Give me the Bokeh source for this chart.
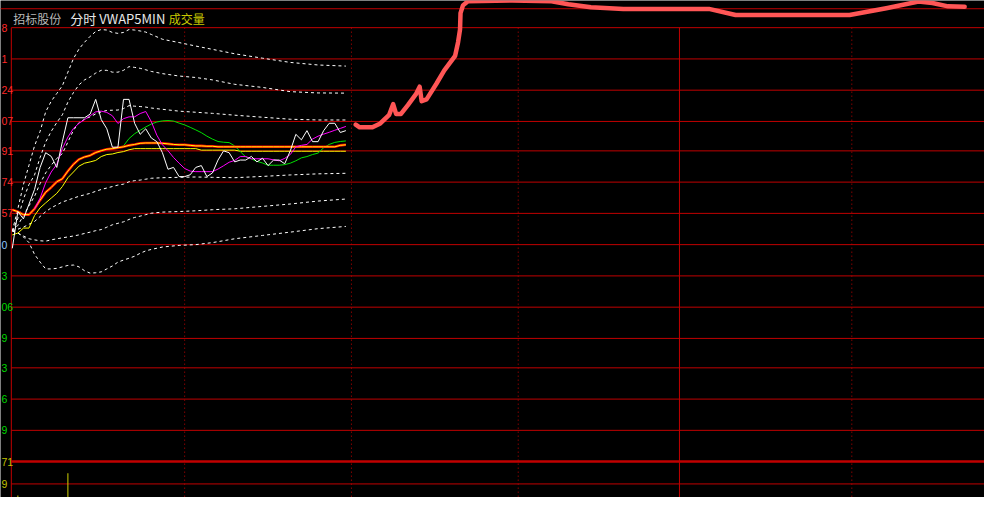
from bokeh.plotting import figure
from bokeh.models import Range1d
from bokeh.core.properties import value
from bokeh.embed import file_html
from bokeh.resources import INLINE

# ---------------- data ----------------
minutes = list(range(61))

price_line = [10.38, 10.58, 10.54, 10.62, 10.70, 10.82, 10.90, 10.88, 10.82, 10.96,
              11.09, 11.09, 11.09, 11.09, 11.11, 11.19, 11.08, 11.03, 10.93, 10.93,
              11.19, 11.19, 11.06, 11.00, 11.03, 10.98, 10.96, 10.90, 10.81, 10.82,
              10.77, 10.77, 10.78, 10.82, 10.83, 10.77, 10.79, 10.86, 10.91, 10.90,
              10.85, 10.86, 10.86, 10.88, 10.85, 10.87, 10.83, 10.86, 10.86, 10.84,
              10.91, 11.00, 10.97, 11.02, 10.96, 10.96, 11.02, 11.06, 11.06, 11.01, 11.02]

avg_line = [10.590, 10.579, 10.563, 10.563, 10.595, 10.642, 10.685, 10.711, 10.742, 10.758,
            10.800, 10.837, 10.864, 10.877, 10.885, 10.901, 10.911, 10.919, 10.922, 10.927,
            10.932, 10.940, 10.945, 10.951, 10.953, 10.953, 10.953, 10.951, 10.948, 10.945,
            10.943, 10.943, 10.940, 10.937, 10.937, 10.935, 10.935, 10.932, 10.932, 10.932,
            10.932, 10.932, 10.932, 10.932, 10.932, 10.932, 10.932, 10.932, 10.932, 10.932,
            10.932, 10.932, 10.932, 10.932, 10.932, 10.932, 10.932, 10.932, 10.932, 10.940, 10.943]

yellow_line = [10.453, 10.463, 10.490, 10.490, 10.558, 10.600, 10.627, 10.653, 10.679, 10.716,
               10.764, 10.795, 10.827, 10.843, 10.850, 10.858, 10.879, 10.890, 10.893, 10.901,
               10.906, 10.916, 10.922, 10.922, 10.922, 10.922, 10.922, 10.922, 10.922, 10.922,
               10.922, 10.922, 10.922, 10.922, 10.914, 10.914, 10.914, 10.914, 10.914, 10.914,
               10.914, 10.908, 10.908, 10.908, 10.908, 10.908, 10.908, 10.908, 10.908, 10.908,
               10.908, 10.908, 10.908, 10.908, 10.908, 10.908, 10.908, 10.908, 10.908, 10.908, 10.908]

magenta_minutes = list(range(4, 61))
magenta_line = [10.595, 10.653, 10.737, 10.795, 10.837, 10.922, 10.985, 11.032, 11.060, 11.080,
                11.101, 11.122, 11.126, 11.119, 11.101, 11.059, 11.085, 11.095, 11.095, 11.113,
                11.124, 11.069, 10.995, 10.943, 10.911, 10.874, 10.843, 10.814, 10.800, 10.797,
                10.797, 10.797, 10.797, 10.811, 10.829, 10.848, 10.858, 10.879, 10.879, 10.867,
                10.867, 10.867, 10.867, 10.861, 10.856, 10.869, 10.890, 10.932, 10.940, 10.945,
                10.974, 10.990, 11.001, 11.011, 11.022, 11.032, 11.043]

green_minutes = list(range(19, 61))
green_line = [10.927, 10.937, 10.977, 11.003, 11.022, 11.040, 11.056, 11.067, 11.073, 11.075,
              11.072, 11.061, 11.051, 11.038, 11.024, 11.009, 10.990, 10.974, 10.961, 10.957,
              10.955, 10.937, 10.906, 10.877, 10.866, 10.853, 10.844, 10.832, 10.832, 10.832,
              10.835, 10.843, 10.856, 10.872, 10.879, 10.890, 10.898, 10.927, 10.945, 10.956,
              10.961, 10.964]

band_minutes = [0, 1, 2, 3, 4, 5, 6, 7, 8, 9, 10, 11, 12, 13, 14, 15, 16, 17, 18, 19,
                20, 21, 22, 23, 24, 25, 27, 30, 33, 36, 40, 45, 50, 55, 60]
upper1 = [10.474, 10.505, 10.558, 10.611, 10.663, 10.732, 10.790, 10.832, 10.869, 10.895,
          10.958, 11.022, 11.064, 11.082, 11.095, 11.111, 11.122, 11.130, 11.131, 11.132,
          11.140, 11.156, 11.153, 11.151, 11.148, 11.143, 11.136, 11.126, 11.120, 11.114,
          11.104, 11.093, 11.082, 11.078, 11.078]
upper2 = [10.474, 10.542, 10.648, 10.727, 10.779, 10.874, 10.958, 11.016, 11.064, 11.106,
          11.175, 11.227, 11.269, 11.296, 11.312, 11.333, 11.348, 11.348, 11.338, 11.338,
          11.348, 11.368, 11.364, 11.359, 11.351, 11.342, 11.330, 11.317, 11.309, 11.296,
          11.272, 11.255, 11.232, 11.225, 11.224]
upper3 = [10.474, 10.595, 10.727, 10.832, 10.937, 11.016, 11.122, 11.180, 11.222, 11.264,
          11.338, 11.412, 11.464, 11.501, 11.533, 11.559, 11.570, 11.567, 11.554, 11.549,
          11.554, 11.570, 11.567, 11.562, 11.556, 11.543, 11.517, 11.499, 11.480, 11.462,
          11.438, 11.414, 11.391, 11.377, 11.371]
lower1 = [10.474, 10.484, 10.495, 10.511, 10.526, 10.553, 10.579, 10.600, 10.616, 10.632,
          10.642, 10.653, 10.663, 10.671, 10.679, 10.690, 10.700, 10.708, 10.716, 10.724,
          10.729, 10.742, 10.748, 10.751, 10.756, 10.761, 10.764, 10.766, 10.768, 10.766,
          10.764, 10.771, 10.779, 10.785, 10.788]
lower2 = [10.474, 10.463, 10.447, 10.432, 10.426, 10.421, 10.419, 10.426, 10.432, 10.437,
          10.442, 10.447, 10.453, 10.461, 10.468, 10.476, 10.482, 10.495, 10.508, 10.516,
          10.524, 10.537, 10.548, 10.555, 10.563, 10.571, 10.577, 10.580, 10.584, 10.590,
          10.595, 10.608, 10.621, 10.637, 10.648]
lower3 = [10.474, 10.463, 10.442, 10.411, 10.347, 10.305, 10.268, 10.268, 10.271, 10.279,
          10.287, 10.289, 10.279, 10.258, 10.245, 10.247, 10.252, 10.268, 10.284, 10.305,
          10.316, 10.326, 10.337, 10.353, 10.366, 10.374, 10.387, 10.396, 10.400, 10.411,
          10.432, 10.450, 10.468, 10.487, 10.499]

vol_minutes = [1, 10]
vol_values = [1480, 2480]
vol_ticks = [3000, 2000]
vol_tick_labels = ["71", "9"]

price_ticks = [11.58, 11.41, 11.24, 11.07, 10.91, 10.74, 10.57, 10.40,
               10.23, 10.06, 9.89, 9.73, 9.56, 9.39]
price_tick_labels = ["8", "1", "24", "07", "91", "74", "57", "0",
                     "3", "06", "9", "3", "6", "9"]
prev_close = 10.40
panel_bottom = 9.22

dotted_marks = [31, 61, 91, 151]
solid_marks = [120]

# hand-drawn red annotation stroke (minutes, price)
annot_minutes = [61.77, 62.48, 64.78, 66.19, 67.79, 68.50, 69.03, 69.91, 71.15, 72.57,
                 73.27, 73.63, 74.51, 76.28, 77.70, 79.65, 80.18, 80.53, 80.62, 81.06,
                 81.95, 89.91, 96.99, 100.0, 104.07, 109.9, 125.3, 130.1, 150.6, 157.2,
                 163.0, 165.5, 168.3, 171.3]
annot_prices = [11.053, 11.038, 11.038, 11.059, 11.106, 11.164, 11.111, 11.111, 11.159, 11.217,
                11.259, 11.180, 11.190, 11.275, 11.348, 11.427, 11.501, 11.570, 11.659, 11.701,
                11.724, 11.728, 11.724, 11.707, 11.691, 11.682, 11.682, 11.649, 11.649, 11.686,
                11.722, 11.714, 11.696, 11.694]

# ---------------- layout helpers (reference pixel -> data) ----------------
PX_PER_MIN = 5.65
X0_PX = 12.0
ZERO_PX = 252.0
STEP = 0.1686
GRID_PX = 32.0


def mx(px):
    return (px - X0_PX) / PX_PER_MIN


def py(px):
    return prev_close + (ZERO_PX - px) * STEP / GRID_PX


VOL_ZERO_PX = 545.0
VOL_PER_PX = 1000.0 / 23.0

W, H = 984, 497
p = figure(width=W, height=H,
           x_range=Range1d(mx(0), mx(1000)),
           y_range=Range1d(py(513), py(0)),
           output_backend="svg", toolbar_location=None,
           x_axis_location=None, y_axis_location=None,
           min_border=0, background_fill_color="#000000",
           border_fill_color="#000000", outline_line_color=None)
p.grid.visible = False
p.extra_y_ranges = {"vol": Range1d((VOL_ZERO_PX - 513) * VOL_PER_PX, VOL_ZERO_PX * VOL_PER_PX)}

GRID = "#c00000"
left = mx(11)
right = mx(1000)
bottom = py(513)

# horizontal grid
n = len(price_ticks)
p.segment(x0=[left] * n, y0=price_ticks, x1=[right] * n, y1=price_ticks,
          line_color=GRID, line_width=1)
p.segment(x0=[left], y0=[panel_bottom], x1=[right], y1=[panel_bottom],
          line_color=GRID, line_width=2.5)
p.segment(x0=[left], y0=[vol_ticks[1]], x1=[right], y1=[vol_ticks[1]],
          line_color=GRID, line_width=1, y_range_name="vol")
# top separator line
p.segment(x0=[mx(0)], y0=[py(8.5)], x1=[right], y1=[py(8.5)], line_color=GRID, line_width=1)
# left border
p.segment(x0=[left], y0=[price_ticks[0]], x1=[left], y1=[bottom], line_color=GRID, line_width=1)
# time marks
p.segment(x0=dotted_marks, y0=[price_ticks[0]] * len(dotted_marks), x1=dotted_marks,
          y1=[bottom] * len(dotted_marks), line_color=GRID, line_width=1, line_dash="1 3")
p.segment(x0=solid_marks, y0=[price_ticks[0]], x1=solid_marks, y1=[bottom],
          line_color=GRID, line_width=1)

# bands
for band in (upper3, upper2, upper1, lower1, lower2, lower3):
    p.line(band_minutes, band, line_color="#ffffff", line_width=1, line_dash="3 3")

# volume
p.segment(x0=vol_minutes, y0=[0] * len(vol_minutes), x1=vol_minutes, y1=vol_values,
          y_range_name="vol", line_color="#d0d000", line_width=1)

# series
p.line(minutes, yellow_line, line_color="#ffff00", line_width=1)
p.line(green_minutes, green_line, line_color="#00e000", line_width=1)
p.line(minutes, avg_line, line_color="#ff0000", line_width=2.6)
p.line(minutes, avg_line, line_color="#ffff00", line_width=1)
p.line(magenta_minutes, magenta_line, line_color="#ff00ff", line_width=1)
p.line(minutes, price_line, line_color="#ffffff", line_width=1)

# freehand annotation
p.line(annot_minutes, annot_prices, line_color="#ff5656", line_width=4.5,
       line_cap="round", line_join="round")

# title
FONT = value("Noto Sans CJK SC")
p.text(x=[mx(13)], y=[py(18.5)], text=["招标股份"], text_font=FONT, text_font_size="12px",
       text_color="#b8b8b8", text_baseline="middle", text_align="left")
p.text(x=[mx(71)], y=[py(18.5)], text=["分时 VWAP5MIN"], text_font=FONT, text_font_size="13px",
       text_color="#e8e8e8", text_baseline="middle", text_align="left")
p.text(x=[mx(171)], y=[py(18.5)], text=["成交量"], text_font=FONT, text_font_size="12px",
       text_color="#c8c800", text_baseline="middle", text_align="left")

# axis tick labels (left edge, cropped in the original)
colors = []
for t in price_ticks:
    if t > prev_close:
        colors.append("#ff2a2a")
    elif t < prev_close:
        colors.append("#00d800")
    else:
        colors.append("#8cc8ff")
LABEL_FONT = value("Liberation Sans")
p.text(x=[mx(1.0)] * n, y=price_ticks, text=price_tick_labels, text_font=LABEL_FONT,
       text_font_size="10.5px", text_color=colors, text_baseline="middle", text_align="left")
p.text(x=[mx(1.0)] * 2, y=vol_ticks, text=vol_tick_labels, text_font=LABEL_FONT,
       text_font_size="10.5px", text_color="#c0c000", text_baseline="middle", text_align="left",
       y_range_name="vol")

open("out.html", "w").write(file_html(p, INLINE))
